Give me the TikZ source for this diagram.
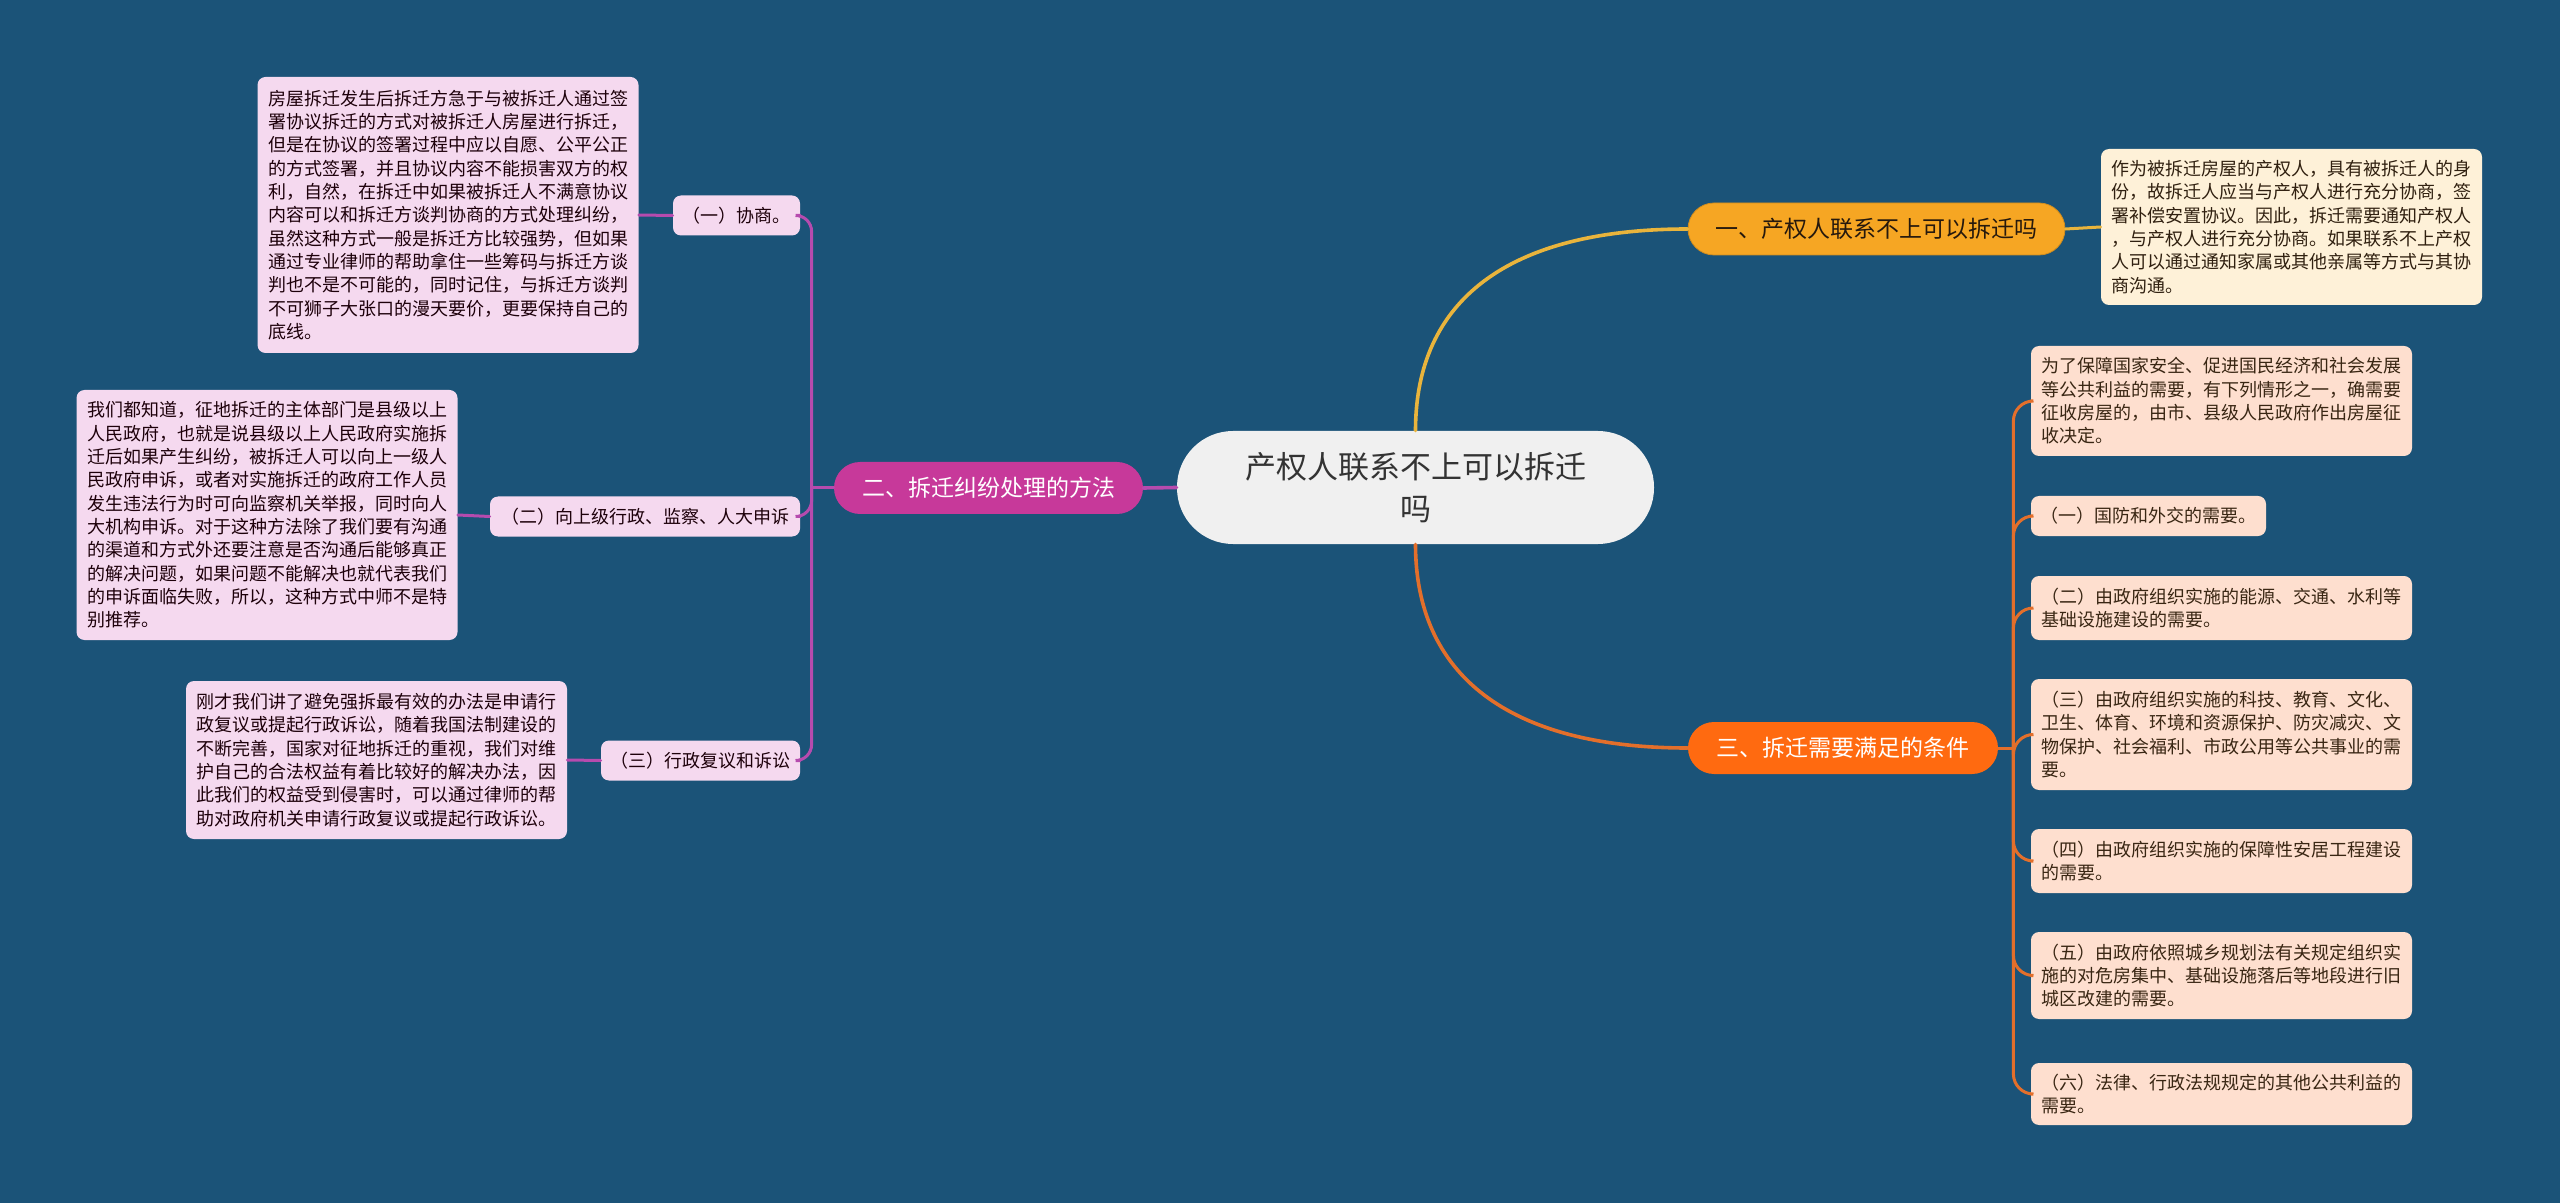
\documentclass[tikz,border=0pt]{standalone}
\usepackage{fontspec}
\setmainfont{Noto Sans CJK SC}
\usetikzlibrary{calc}

% 配色
\definecolor{bg}{HTML}{1B5378}
\definecolor{rootfill}{HTML}{F0F0F0}
\definecolor{onefill}{HTML}{F6A623}
\definecolor{oneline}{HTML}{E9B43C}
\definecolor{oneleaf}{HTML}{FEF1D8}
\definecolor{twofill}{HTML}{C7399A}
\definecolor{twoline}{HTML}{B64BAE}
\definecolor{twoleaf}{HTML}{F5D9EF}
\definecolor{threefill}{HTML}{FF6A10}
\definecolor{threeline}{HTML}{E36F2B}
\definecolor{threeleaf}{HTML}{FEDFCF}

\begin{document}
\begin{tikzpicture}[x=0.5pt, y=-0.5pt, line cap=round,
  rootbox/.style={fill=rootfill, text=black!80, rounded corners=28pt,
    minimum width=238.5pt, minimum height=56.5pt, align=center,
    font=\fontsize{15.5}{21}\selectfont},
  branch/.style={rounded corners=13pt, minimum height=26pt,
    font=\fontsize{11.5}{14}\selectfont},
  textbox/.style={rounded corners=4pt, align=left, text width=180pt,
    inner xsep=5.25pt, font=\fontsize{9}{11.65}\selectfont},
  tagbox/.style={rounded corners=4pt, minimum height=20pt,
    font=\fontsize{9}{11.65}\selectfont},
  twotext/.style={fill=twoleaf, text=black!85!purple},
  onetext/.style={fill=oneleaf, text=black!75!brown},
  threetext/.style={fill=threeleaf, text=black!70!brown},
  conn/.style={line width=1.8pt},
  subconn/.style={line width=1.5pt}
]

% 背景与画布大小
\fill[bg] (0,0) rectangle (2560,1203);
\useasboundingbox (0,0) rectangle (2560,1203);

% 中心主题
\node[rootbox] (root) at (1415.5,487.5) {产权人联系不上可以拆迁\\吗};

% 一级分支
\node[branch, fill=onefill, draw=onefill!85!black, text=black!80!brown,
  minimum width=188.5pt] (b1) at (1876.5,229) {一、产权人联系不上可以拆迁吗};
\node[branch, fill=twofill, text=white, minimum width=154.5pt]
  (b2) at (988.5,488) {二、拆迁纠纷处理的方法};
\node[branch, fill=threefill, text=white, minimum width=155pt]
  (b3) at (1843,748) {三、拆迁需要满足的条件};

% 分支一的说明
\node[textbox, onetext, minimum height=78pt] (l1) at (2291.5,227)
  {作为被拆迁房屋的产权人，具有被拆迁人的身\\
   份，故拆迁人应当与产权人进行充分协商，签\\
   署补偿安置协议。因此，拆迁需要通知产权人\\
   ，与产权人进行充分协商。如果联系不上产权\\
   人可以通过通知家属或其他亲属等方式与其协\\
   商沟通。};

% 分支二的三个小标题
\node[tagbox, twotext, minimum width=63.5pt] (c1) at (736.5,215.5) {（一）协商。};
\node[tagbox, twotext, minimum width=155pt] (c2) at (645,516.5) {（二）向上级行政、监察、人大申诉};
\node[tagbox, twotext, minimum width=99.5pt] (c3) at (700.5,760.5) {（三）行政复议和诉讼};

% 分支二的说明文字
\node[textbox, twotext, minimum height=138pt] (t1) at (448,215)
  {房屋拆迁发生后拆迁方急于与被拆迁人通过签\\
   署协议拆迁的方式对被拆迁人房屋进行拆迁，\\
   但是在协议的签署过程中应以自愿、公平公正\\
   的方式签署，并且协议内容不能损害双方的权\\
   利，自然，在拆迁中如果被拆迁人不满意协议\\
   内容可以和拆迁方谈判协商的方式处理纠纷，\\
   虽然这种方式一般是拆迁方比较强势，但如果\\
   通过专业律师的帮助拿住一些筹码与拆迁方谈\\
   判也不是不可能的，同时记住，与拆迁方谈判\\
   不可狮子大张口的漫天要价，更要保持自己的\\
   底线。};
\node[textbox, twotext, minimum height=125pt] (t2) at (267,515)
  {我们都知道，征地拆迁的主体部门是县级以上\\
   人民政府，也就是说县级以上人民政府实施拆\\
   迁后如果产生纠纷，被拆迁人可以向上一级人\\
   民政府申诉，或者对实施拆迁的政府工作人员\\
   发生违法行为时可向监察机关举报，同时向人\\
   大机构申诉。对于这种方法除了我们要有沟通\\
   的渠道和方式外还要注意是否沟通后能够真正\\
   的解决问题，如果问题不能解决也就代表我们\\
   的申诉面临失败，所以，这种方式中师不是特\\
   别推荐。};
\node[textbox, twotext, minimum height=79pt] (t3) at (376.5,760)
  {刚才我们讲了避免强拆最有效的办法是申请行\\
   政复议或提起行政诉讼，随着我国法制建设的\\
   不断完善，国家对征地拆迁的重视，我们对维\\
   护自己的合法权益有着比较好的解决办法，因\\
   此我们的权益受到侵害时，可以通过律师的帮\\
   助对政府机关申请行政复议或提起行政诉讼。};

% 分支三的条件
\node[textbox, threetext, minimum height=55pt] (l3a) at (2221.5,401)
  {为了保障国家安全、促进国民经济和社会发展\\
   等公共利益的需要，有下列情形之一，确需要\\
   征收房屋的，由市、县级人民政府作出房屋征\\
   收决定。};
\node[tagbox, threetext, minimum width=117.5pt] (l3b) at (2148.5,516)
  {（一）国防和外交的需要。};
\node[textbox, threetext, minimum height=32pt] (l3c) at (2221.5,608)
  {（二）由政府组织实施的能源、交通、水利等\\
   基础设施建设的需要。};
\node[textbox, threetext, minimum height=55.5pt] (l3d) at (2221.5,734.5)
  {（三）由政府组织实施的科技、教育、文化、\\
   卫生、体育、环境和资源保护、防灾减灾、文\\
   物保护、社会福利、市政公用等公共事业的需\\
   要。};
\node[textbox, threetext, minimum height=32pt] (l3e) at (2221.5,861)
  {（四）由政府组织实施的保障性安居工程建设\\
   的需要。};
\node[textbox, threetext, minimum height=43.5pt] (l3f) at (2221.5,975.5)
  {（五）由政府依照城乡规划法有关规定组织实\\
   施的对危房集中、基础设施落后等地段进行旧\\
   城区改建的需要。};
\node[textbox, threetext, minimum height=31pt] (l3g) at (2221.5,1094)
  {（六）法律、行政法规规定的其他公共利益的\\
   需要。};

% 中心到一级分支
\draw[conn, oneline] (root.north) .. controls +(0,-130) and +(-180,0) .. (b1.west);
\draw[conn, threeline] (root.south) .. controls +(0,130) and +(-180,0) .. (b3.west);
\draw[conn, twoline] (root.west) -- (b2.east);

% 分支一
\draw[subconn, oneline] (b1.east) -- (l1.west);

% 分支二：竖线再拐到小标题
\coordinate (s2) at ($(b2.west)+(-22,0)$);
\draw[subconn, twoline] (b2.west) -- (s2);
\foreach \c in {c1,c2,c3}
  \draw[subconn, twoline, rounded corners=8pt] (s2) |- (\c.east);
\draw[subconn, twoline] (c1.west) -- (t1.east);
\draw[subconn, twoline] (c2.west) -- (t2.east);
\draw[subconn, twoline] (c3.west) -- (t3.east);

% 分支三
\coordinate (s3) at ($(b3.east)+(15,0)$);
\draw[subconn, threeline] (b3.east) -- (s3);
\foreach \c in {l3a,l3b,l3c,l3d,l3e,l3f,l3g}
  \draw[subconn, threeline, rounded corners=10pt] (s3) |- (\c.west);

\end{tikzpicture}
\end{document}
